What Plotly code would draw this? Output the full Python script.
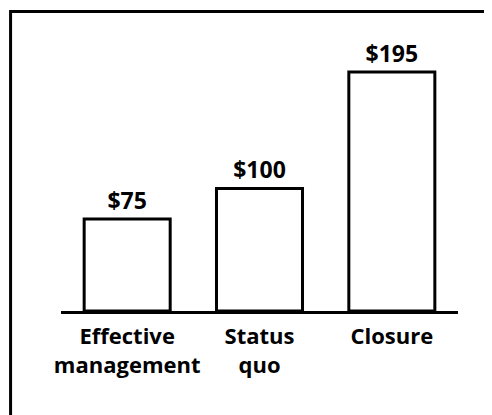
import plotly.graph_objects as go

categories = ["Effective<br>management", "Status<br>quo", "Closure"]
values = [75, 100, 195]
value_labels = ["$75", "$100", "$195"]

FONT = "Open Sans"

fig = go.Figure(
    go.Bar(
        x=categories,
        y=values,
        text=value_labels,
        textposition="outside",
        texttemplate="<b>%{text}</b>",
        textfont=dict(family=FONT, size=23, color="black"),
        cliponaxis=False,
        marker=dict(color="white", line=dict(color="black", width=3)),
        width=0.65,
    )
)

fig.update_layout(
    width=492,
    height=415,
    margin=dict(l=53, r=42, t=21, b=112),
    paper_bgcolor="white",
    plot_bgcolor="white",
    showlegend=False,
    font=dict(family=FONT, color="black"),
    xaxis=dict(
        showline=True,
        linecolor="black",
        linewidth=3,
        showgrid=False,
        zeroline=False,
        ticks="",
        ticklabelstandoff=4,
        tickfont=dict(family=FONT, size=22, color="black", weight="bold"),
        range=[-0.5, 2.5],
    ),
    yaxis=dict(visible=False, range=[0, 230], showgrid=False, zeroline=False),
    shapes=[
        dict(
            type="rect",
            xref="paper",
            yref="paper",
            x0=-0.127,
            x1=1.3,
            y0=-0.6,
            y1=1.062,
            line=dict(color="black", width=3),
            fillcolor="rgba(0,0,0,0)",
            layer="below",
        )
    ],
)

fig.write_html("out.html")
